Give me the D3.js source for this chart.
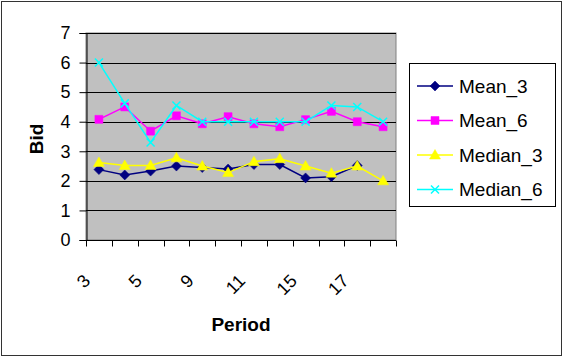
<!DOCTYPE html>
<html><head><meta charset="utf-8">
<script src="https://cdn.jsdelivr.net/npm/d3@7"></script>
<style>body{margin:0;background:#fff}svg{display:block;font-family:Arial,"Liberation Sans",sans-serif}</style>
</head><body><svg id="c" width="563" height="357"></svg>
<script>
const categories = ["3","4","5","6","9","10","11","12","15","16","17","18"];
const tickLabels = ["3","","5","","9","","11","","15","","17",""];
const seriesNames = ["Mean_3","Mean_6","Median_3","Median_6"];
const mean3 = [2.38,2.2,2.33,2.5,2.45,2.4,2.55,2.55,2.1,2.14,2.52,null];
const mean6 = [4.08,4.5,3.68,4.2,3.93,4.17,3.93,3.83,4.07,4.35,4.0,3.83];
const median3 = [2.62,2.52,2.52,2.78,2.5,2.28,2.65,2.75,2.5,2.26,2.5,2.0];
const median6 = [6.0,4.62,3.3,4.55,4.0,4.0,4.0,4.0,4.0,4.55,4.5,4.0];
const yTicks = [0,1,2,3,4,5,6,7];
const colors = ["#000080","#FF00FF","#FFFF00","#00FFFF"];
const markers = ["diamond","square","triangle","x"];
const allSeries = [mean3, mean6, median3, median6];

const svg = d3.select("#c");
svg.append("rect").attr("x",1.5).attr("y",1.5).attr("width",560).attr("height",354)
  .attr("fill","#fff").attr("stroke","#333");

const L=86,R=396,T=33,B=240;
const x = d3.scaleBand().domain(categories).range([L,R]);
const y = d3.scaleLinear().domain([0,7]).range([B,T]);

svg.append("rect").attr("x",L).attr("y",T).attr("width",R-L).attr("height",B-T)
  .attr("fill","#C0C0C0").attr("stroke","#808080");
// gridlines
svg.append("g").selectAll("line").data(yTicks.filter(d=>d>0)).join("line")
  .attr("x1",L).attr("x2",R).attr("y1",d=>Math.round(y(d))+0.5).attr("y2",d=>Math.round(y(d))+0.5)
  .attr("stroke","#000").attr("stroke-width",1);

// y axis
const ya = svg.append("g").attr("transform",`translate(${L+0.5},0)`)
  .call(d3.axisLeft(y).tickValues(yTicks).tickSize(7).tickPadding(9).tickFormat(d3.format("d")));
ya.select(".domain").attr("stroke","#000");
ya.selectAll(".tick line").attr("stroke","#000");
ya.selectAll("text").attr("font-size",18).attr("fill","#000").style("font-family","Arial, 'Liberation Sans', sans-serif");

// x axis
const xa = svg.append("g").attr("transform",`translate(0,${B+0.5})`);
xa.append("line").attr("x1",L).attr("x2",R).attr("stroke","#000");
const bounds = categories.map(c=>x(c)).concat([R]);
xa.selectAll("line.t").data(bounds).join("line").attr("class","t")
  .attr("x1",d=>Math.round(d)+0.5).attr("x2",d=>Math.round(d)+0.5).attr("y1",0).attr("y2",6).attr("stroke","#000");
xa.selectAll("text").data(categories).join("text")
  .attr("transform",c=>`translate(${x(c)+x.bandwidth()/2-12},${37}) rotate(-45)`)
  .attr("text-anchor","end").attr("dy","0.35em").attr("font-size",18)
  .text((c,i)=>tickLabels[i]);

// lines and markers
const line = d3.line().defined(d=>d!=null).x((d,i)=>x(categories[i])+x.bandwidth()/2).y(d=>y(d));
function markerPath(type){
  if(type==="diamond") return "M0,-5L5,0L0,5L-5,0Z";
  if(type==="square") return "M-4,-4H4V4H-4Z";
  if(type==="triangle") return "M0,-5.5L5.5,4L-5.5,4Z";
  return "M-4,-4L4,4M-4,4L4,-4";
}
function drawMarker(g,type,color){
  const p = g.append("path").attr("d",markerPath(type));
  if(type==="x") p.attr("fill","none").attr("stroke",color).attr("stroke-width",1.5);
  else p.attr("fill",color).attr("stroke",color).attr("stroke-width",0.5);
}
allSeries.forEach((s,k)=>{
  svg.append("path").datum(s).attr("d",line).attr("fill","none").attr("stroke",colors[k]).attr("stroke-width",1.5);
  s.forEach((v,i)=>{
    if(v==null) return;
    const g = svg.append("g").attr("transform",`translate(${x(categories[i])+x.bandwidth()/2},${y(v)})`);
    drawMarker(g,markers[k],colors[k]);
  });
});

// axis titles
svg.append("text").attr("x",241).attr("y",331).attr("text-anchor","middle")
  .attr("font-size",19).attr("font-weight","bold").text("Period");
svg.append("text").attr("transform","translate(43,139) rotate(-90)").attr("text-anchor","middle")
  .attr("font-size",19).attr("font-weight","bold").text("Bid");

// legend
const lg = svg.append("g");
lg.append("rect").attr("x",409.5).attr("y",63.5).attr("width",146).attr("height",143)
  .attr("fill","#fff").attr("stroke","#000");
seriesNames.forEach((n,k)=>{
  const cy = 86 + k*34.5;
  lg.append("line").attr("x1",417).attr("x2",453).attr("y1",cy).attr("y2",cy).attr("stroke",colors[k]).attr("stroke-width",1.5);
  const g = lg.append("g").attr("transform",`translate(435,${cy})`);
  drawMarker(g,markers[k],colors[k]);
  lg.append("text").attr("x",459).attr("y",cy).attr("dy","0.35em").attr("font-size",19).text(n);
});
</script></body></html>
